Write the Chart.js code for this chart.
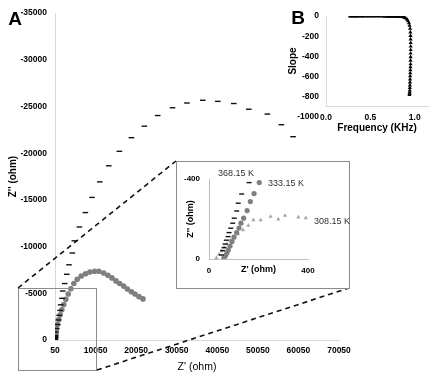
<!DOCTYPE html>
<html>
<head>
<meta charset="utf-8">
<title>Nyquist plots and slope</title>
<script src="https://cdn.jsdelivr.net/npm/chart.js"></script>
<style>
  body { margin: 0; background: #fff; font-family: 'Liberation Sans', Arial, sans-serif; }
  .wrap { position: relative; width: 432px; height: 378px; overflow: hidden; }
  .box { position: absolute; }
  #mainBox { left: 0; top: 0; width: 432px; height: 378px; }
  #zoomLines { position: absolute; left: 0; top: 0; }
  #insetFrame { position: absolute; left: 176px; top: 161px; width: 174px; height: 128px; border: 1px solid #8c8c8c; box-sizing: border-box; background: #fff; }
  #insetBox { left: 177px; top: 162px; width: 172px; height: 126px; }
  #slopeBox { left: 280px; top: 0; width: 152px; height: 140px; }
  .tag { position: absolute; transform: translate(-50%, -50%); white-space: nowrap; }
  .panel { font-weight: bold; font-size: 19px; }
  .series { font-size: 9px; color: #333; }
</style>
</head>
<body>
<div class="wrap">
  <div class="box" id="mainBox"><canvas id="mainChart"></canvas></div>
  <canvas id="zoomLines" width="432" height="378"></canvas>
  <div id="insetFrame"></div>
  <div class="box" id="insetBox"><canvas id="insetChart"></canvas></div>
  <div class="box" id="slopeBox"><canvas id="slopeChart"></canvas></div>
  <span class="tag panel" style="left:15px; top:19px;">A</span>
  <span class="tag panel" style="left:298px; top:18px;">B</span>
  <span class="tag series" style="left:236px; top:173px;">368.15 K</span>
  <span class="tag series" style="left:286px; top:183px;">333.15 K</span>
  <span class="tag series" style="left:332px; top:221px;">308.15 K</span>
</div>

<script>
// Nyquist data, Z' (ohm) and Z'' (ohm)
const re368 = [50, 55, 61, 65, 70, 77, 81, 88, 96, 102, 112, 118, 132, 162,
  200, 297, 470, 717, 865, 1038, 1285, 1457, 1778, 1951, 2445, 2939, 3507, 4322, 4816, 6050,
  7532, 9186, 11087, 13309, 15926, 18888, 22073, 25357, 29011, 32567, 36468, 40171, 44121,
  47825, 52392, 55849, 58738];
const im368 = [-20, -42, -57, -75, -94, -112, -132, -154, -179, -204, -240, -279, -325, -382,
  -496, -844, -1234, -1656, -2142, -2638, -3165, -3766, -4463, -5243, -6045, -7037, -8050, -9316, -10624, -12101,
  -13641, -15266, -16933, -18653, -20204, -21660, -22894, -24033, -24866, -25373, -25668, -25552, -25320,
  -24708, -24191, -23052, -21765];

const re333 = [60, 66, 72, 78, 85, 93, 101, 112, 121, 129, 140, 154, 167, 182, 203,
  240, 420, 668, 989, 1334, 1730, 2224, 2718, 3310, 3953, 4694, 5533, 6521, 7584, 8646,
  9807, 10869, 12030, 13092, 14080, 15068, 15982, 16970, 17883, 18871, 19760, 20748, 21737];
const im333 = [-5, -15, -29, -45, -65, -87, -109, -132, -155, -179, -204, -242, -287, -327, -382,
  -665, -1129, -1656, -2184, -2711, -3239, -3798, -4357, -4927, -5486, -6045, -6509, -6858, -7100, -7280,
  -7353, -7353, -7174, -6931, -6647, -6330, -6045, -5771, -5454, -5170, -4927, -4642, -4399];

const re308 = [30, 40, 51, 61, 73, 85, 101, 117, 137, 159, 179, 209, 249, 280, 307, 361, 391];
const im308 = [-5, -23, -40, -58, -75, -93, -110, -125, -145, -167, -195, -195, -212, -199, -217, -209, -205];

// slope vs frequency (panel B)
const freqB = [0.27, 0.29, 0.31, 0.33, 0.35, 0.37, 0.40, 0.42, 0.45, 0.48,
  0.51, 0.54, 0.57, 0.60, 0.63, 0.66, 0.69, 0.71, 0.73, 0.75,
  0.77, 0.79, 0.81, 0.83, 0.85, 0.87, 0.885, 0.90, 0.915, 0.925,
  0.935, 0.942, 0.948, 0.951, 0.953, 0.954, 0.955, 0.955, 0.955, 0.954,
  0.954, 0.953, 0.953, 0.952, 0.951, 0.950, 0.949, 0.948, 0.947, 0.946,
  0.945, 0.944, 0.943, 0.942, 0.941];
const slopeB = [-2, -2, -3, -3, -3, -3, -3, -3, -3, -4,
  -4, -4, -4, -4, -4, -5, -5, -5, -5, -5,
  -6, -6, -7, -8, -9, -11, -15, -23, -35, -50,
  -70, -95, -125, -160, -195, -230, -265, -300, -335, -370,
  -405, -440, -475, -505, -535, -565, -595, -625, -655, -685,
  -710, -735, -755, -770, -780];

// tick labels
const xTicksMain = [50, 10050, 20050, 30050, 40050, 50050, 60050, 70050];
const yTicksMain = [0, -5000, -10000, -15000, -20000, -25000, -30000, -35000];
const xTicksInset = [0, 400];
const yTicksInset = [0, -400];
const xTicksB = [0, 0.5, 1.0];
const yTicksB = [0, -200, -400, -600, -800, -1000];

Chart.defaults.font.family = "'Liberation Sans', Arial, sans-serif";
Chart.defaults.color = '#000';
Chart.defaults.animation = false;

const noGrid = { display: false, drawTicks: false };

function pts(xs, ys) {
  return xs.map((x, i) => ({ x: x, y: ys[i] }));
}
function fixTicks(list) {
  return scale => { scale.ticks = list.map(v => ({ value: v })); };
}

function nyquistSets(r) {
  return [
    { label: '368.15 K', data: pts(re368, im368), pointStyle: 'line', pointRadius: r.line,
      borderColor: '#111', backgroundColor: '#111', pointBorderWidth: 1.4 },
    { label: '333.15 K', data: pts(re333, im333), pointStyle: 'circle', pointRadius: r.circle,
      borderColor: '#7f7f7f', backgroundColor: '#7f7f7f', pointBorderWidth: 0 },
    { label: '308.15 K', data: pts(re308, im308), pointStyle: 'triangle', pointRadius: r.tri,
      borderColor: '#a6a6a6', backgroundColor: '#a6a6a6', pointBorderWidth: 0 }
  ];
}

// main Nyquist plot
new Chart(document.getElementById('mainChart'), {
  type: 'scatter',
  data: { datasets: nyquistSets({ line: 2.8, circle: 2.8, tri: 2.8 }) },
  options: {
    responsive: true,
    maintainAspectRatio: false,
    layout: { padding: { left: 3, top: 7, right: 93, bottom: 1 } },
    plugins: { legend: { display: false }, tooltip: { enabled: false } },
    scales: {
      x: {
        type: 'linear', min: 50, max: 70050,
        afterBuildTicks: fixTicks(xTicksMain),
        afterFit: s => { s.height = 37; },
        grid: noGrid,
        border: { color: '#d9d9d9' },
        ticks: { font: { size: 8.5, weight: 'bold' }, padding: 6, maxRotation: 0, autoSkip: false, callback: v => v },
        title: { display: true, text: "Z' (ohm)", font: { size: 10.5 }, padding: { top: 4, bottom: 4 } }
      },
      y: {
        type: 'linear', min: -35000, max: 0, reverse: true,
        afterBuildTicks: fixTicks(yTicksMain),
        afterFit: s => { s.width = 52; },
        grid: noGrid,
        border: { color: '#d9d9d9' },
        ticks: { font: { size: 8.5, weight: 'bold' }, padding: 8, autoSkip: false, callback: v => v },
        title: { display: true, text: "Z'' (ohm)", font: { size: 10, weight: 'bold' }, padding: { top: 4, bottom: 4 } }
      }
    }
  }
});

// zoom box and dashed guide lines
const zc = document.getElementById('zoomLines').getContext('2d');
zc.strokeStyle = '#8c8c8c';
zc.lineWidth = 1;
zc.strokeRect(18.5, 288.5, 78, 82);
zc.strokeStyle = '#111';
zc.lineWidth = 1.6;
zc.setLineDash([5, 4]);
zc.beginPath();
zc.moveTo(18, 288); zc.lineTo(176, 161);
zc.moveTo(97, 370); zc.lineTo(349, 288);
zc.stroke();

// inset: zoom near the origin
new Chart(document.getElementById('insetChart'), {
  type: 'scatter',
  data: { datasets: nyquistSets({ line: 2.5, circle: 2.6, tri: 2.4 }) },
  options: {
    responsive: true,
    maintainAspectRatio: false,
    layout: { padding: { left: 4, top: 17, right: 41, bottom: 9 } },
    plugins: { legend: { display: false }, tooltip: { enabled: false } },
    scales: {
      x: {
        type: 'linear', min: 0, max: 400,
        afterBuildTicks: fixTicks(xTicksInset),
        afterFit: s => { s.height = 20; },
        grid: noGrid,
        border: { color: '#bfbfbf' },
        ticks: { font: { size: 8, weight: 'bold' }, padding: 7, maxRotation: 0, autoSkip: false, callback: v => v },
        title: { display: true, text: "Z' (ohm)", font: { size: 9, weight: 'bold' }, padding: { top: 4, bottom: 4 } }
      },
      y: {
        type: 'linear', min: -400, max: 0, reverse: true,
        afterBuildTicks: fixTicks(yTicksInset),
        afterFit: s => { s.width = 28; },
        grid: noGrid,
        border: { color: '#bfbfbf' },
        ticks: { font: { size: 8, weight: 'bold' }, padding: 9, autoSkip: false, callback: v => v },
        title: { display: true, text: "Z'' (ohm)", font: { size: 9, weight: 'bold' }, padding: { top: 4, bottom: 4 } }
      }
    }
  }
});

// panel B: slope vs frequency
new Chart(document.getElementById('slopeChart'), {
  type: 'scatter',
  data: {
    datasets: [{
      label: 'Slope', data: pts(freqB, slopeB), pointStyle: 'triangle', pointRadius: 2.4,
      borderColor: '#000', backgroundColor: '#000', pointBorderWidth: 0
    }]
  },
  options: {
    responsive: true,
    maintainAspectRatio: false,
    layout: { padding: { left: 3, top: 16, right: 4, bottom: 2 } },
    plugins: { legend: { display: false }, tooltip: { enabled: false } },
    scales: {
      x: {
        type: 'linear', min: 0, max: 1.15,
        afterBuildTicks: fixTicks(xTicksB),
        afterFit: s => { s.height = 32; },
        grid: noGrid,
        border: { color: '#d9d9d9' },
        ticks: { font: { size: 8.5, weight: 'bold' }, padding: 7, maxRotation: 0, autoSkip: false, callback: v => v.toFixed(1) },
        title: { display: true, text: 'Frequency (KHz)', font: { size: 10, weight: 'bold' }, padding: { top: 4, bottom: 4 } }
      },
      y: {
        type: 'linear', min: -890, max: 0,
        afterBuildTicks: fixTicks(yTicksB),
        afterFit: s => { s.width = 43; },
        grid: noGrid,
        border: { color: '#d9d9d9' },
        ticks: { font: { size: 8.5, weight: 'bold' }, padding: 7, autoSkip: false, callback: v => v },
        title: { display: true, text: 'Slope', font: { size: 10, weight: 'bold' }, padding: { top: 4, bottom: 4 } }
      }
    }
  }
});
</script>
</body>
</html>
